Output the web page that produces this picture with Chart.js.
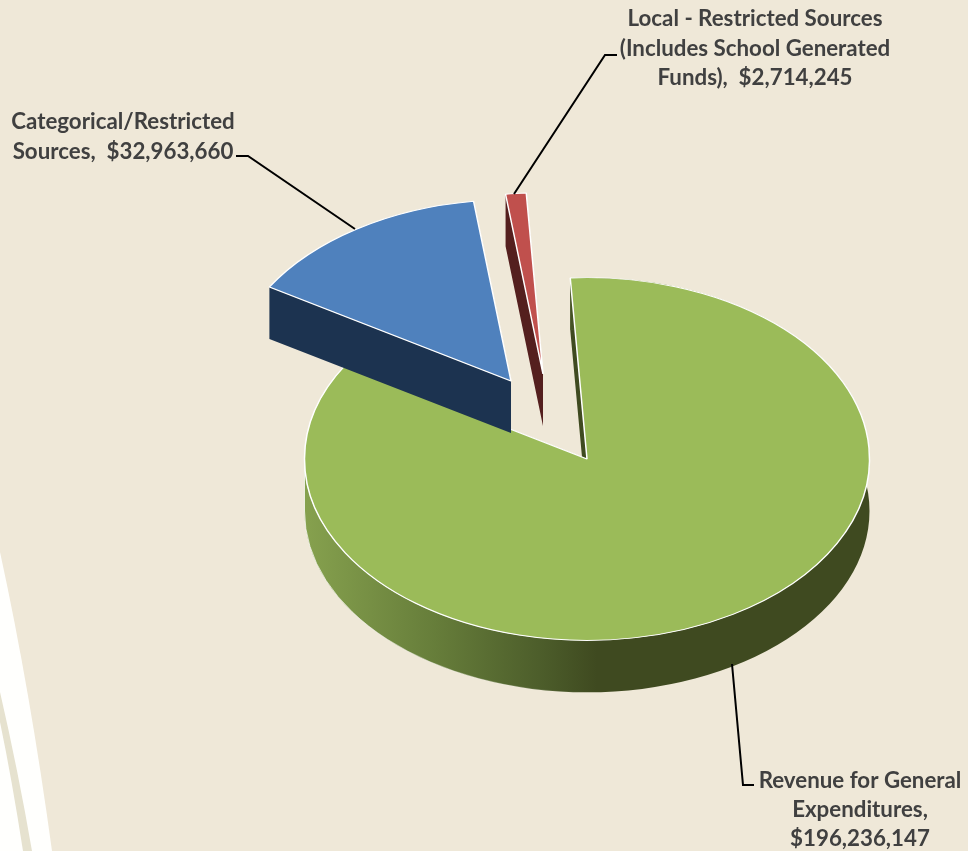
<!DOCTYPE html>
<html>
<head>
<meta charset="utf-8">
<title>Revenue sources</title>
<script src="https://cdn.jsdelivr.net/npm/chart.js@4/dist/chart.umd.min.js"></script>
<style>
  html, body { margin: 0; padding: 0; background: #efe8d8; overflow: hidden; }
  canvas { display: block; }
</style>
</head>
<body>
<canvas id="pie" width="968" height="851"></canvas>
<script>
// data
const categories = ['Revenue for General Expenditures', 'Categorical/Restricted Sources', 'Local - Restricted Sources (Includes School Generated Funds)'];
const revenue = [196236147, 32963660, 2714245];
const labelLines = [
    ['Revenue for General', 'Expenditures,', ''],
    ['Categorical/Restricted', 'Sources,  '],
    ['Local - Restricted Sources', '(Includes School Generated', 'Funds),  ']
];
const topColors = ['#9bbb59', '#4f81bd', '#c0504d'];
const wallColors = ['#3f4a20', '#1c3350', '#541f1e'];

// layout of the fake 3d pie
const centerX = 587, centerY = 459, radius = 282.5;
const squash = 0.642, depth = 52;
const explode = [[0, 0], [-76, -78], [-44, -85]]; // screen px
const labelPos = [[860, 781, 29], [123, 122, 30], [755, 19, 29.5]];
const leaders = [
    [[732, 664], [743, 785], [754, 785]],
    [[236, 156], [248, 156], [355, 229]],
    [[514, 194], [605, 55], [617, 55]]
];

function money(v) {
    return '$' + v.toLocaleString('en-US');
}

const pie3d = {
    id: 'pie3d',
    beforeDraw(chart) {
        // pale curved stripe in the lower left of the slide background
        const ctx = chart.ctx;
        ctx.save();
        ctx.fillStyle = '#fffffd';
        ctx.beginPath();
        ctx.moveTo(0, 552);
        ctx.quadraticCurveTo(30, 690, 52, 851);
        ctx.lineTo(0, 851);
        ctx.closePath();
        ctx.fill();
        ctx.fillStyle = '#e6e2cf';
        ctx.beginPath();
        ctx.moveTo(0, 692);
        ctx.quadraticCurveTo(18, 770, 32, 851);
        ctx.lineTo(23, 851);
        ctx.quadraticCurveTo(12, 780, 0, 722);
        ctx.closePath();
        ctx.fill();
        ctx.restore();
    },
    afterDatasetsUpdate(chart) {
        chart.getDatasetMeta(0).data.forEach((arc, i) => {
            arc.base = arc.base || { x: arc.x, y: arc.y };
            arc.x = arc.base.x + explode[i][0];
            arc.y = arc.base.y + explode[i][1] / squash;
        });
    },
    beforeDatasetDraw(chart, args) {
        const ctx = chart.ctx;
        const midY = chart.chartArea.top + chart.chartArea.height / 2;
        const squashed = () => {
            ctx.translate(0, centerY);
            ctx.scale(1, squash);
            ctx.translate(0, -midY);
        };
        const d = depth / squash;

        args.meta.data.forEach((arc, i) => {
            const a0 = arc.startAngle, a1 = arc.endAngle;
            const r = arc.outerRadius;
            const ends = [a0, a1].map(a => [arc.x + Math.cos(a) * r, arc.y + Math.sin(a) * r]);

            // cut faces
            ctx.save();
            squashed();
            ctx.beginPath();
            ends.forEach(p => {
                ctx.moveTo(arc.x, arc.y);
                ctx.lineTo(p[0], p[1]);
                ctx.lineTo(p[0], p[1] + d);
                ctx.lineTo(arc.x, arc.y + d);
                ctx.closePath();
            });
            ctx.restore();
            ctx.fillStyle = wallColors[i];
            ctx.fill();

            // outer wall, only the part that faces the viewer
            for (const [from, to] of [[a0, Math.min(a1, Math.PI)], [Math.max(a0, 2 * Math.PI), Math.min(a1, 3 * Math.PI)]]) {
                if (to <= from) continue;
                ctx.save();
                squashed();
                ctx.beginPath();
                ctx.arc(arc.x, arc.y, r, from, to);
                ctx.arc(arc.x, arc.y + d, r, to, from, true);
                ctx.closePath();
                ctx.restore();
                if (i === 0) {
                    const grad = ctx.createLinearGradient(centerX - radius, 0, centerX + 10, 0);
                    grad.addColorStop(0, '#86a14e');
                    grad.addColorStop(0.45, '#667d3a');
                    grad.addColorStop(0.8, '#4d5e2b');
                    grad.addColorStop(1, wallColors[0]);
                    ctx.fillStyle = grad;
                } else {
                    ctx.fillStyle = wallColors[i];
                }
                ctx.fill();
                // the thin white edge fades out towards the dark side
                const edge = ctx.createLinearGradient(centerX - radius, 0, centerX, 0);
                edge.addColorStop(0, 'rgba(255,255,255,0.7)');
                edge.addColorStop(1, 'rgba(255,255,255,0)');
                ctx.strokeStyle = edge;
                ctx.lineWidth = 1;
                ctx.stroke();
            }

            // top face comes from the library's own arc element
            ctx.save();
            squashed();
            arc.draw(ctx);
            ctx.restore();
        });
        return false;
    },
    afterDraw(chart) {
        const ctx = chart.ctx;
        ctx.save();
        ctx.strokeStyle = '#000';
        ctx.lineWidth = 2;
        leaders.forEach(pts => {
            ctx.beginPath();
            pts.forEach((p, k) => k ? ctx.lineTo(p[0], p[1]) : ctx.moveTo(p[0], p[1]));
            ctx.stroke();
        });
        ctx.fillStyle = '#404040';
        ctx.font = 'bold 22.3px Lato';
        ctx.textAlign = 'center';
        ctx.textBaseline = 'middle';
        labelLines.forEach((lines, i) => {
            const [x, y, step] = labelPos[i];
            lines.forEach((line, k) => {
                const text = k === lines.length - 1 ? line + money(revenue[i]) : line;
                ctx.fillText(text, x, y + k * step);
            });
        });
        ctx.restore();
    }
};

new Chart(document.getElementById('pie'), {
    type: 'pie',
    data: {
        labels: categories,
        datasets: [{
            data: revenue,
            backgroundColor: topColors,
            borderColor: '#ffffff',
            borderWidth: 1.5
        }]
    },
    options: {
        responsive: false,
        animation: false,
        rotation: -3.4,
        radius: radius,
        layout: { padding: { left: 2 * centerX - 968 } },
        plugins: { legend: { display: false }, tooltip: { enabled: false } }
    },
    plugins: [pie3d]
});
</script>
</body>
</html>
